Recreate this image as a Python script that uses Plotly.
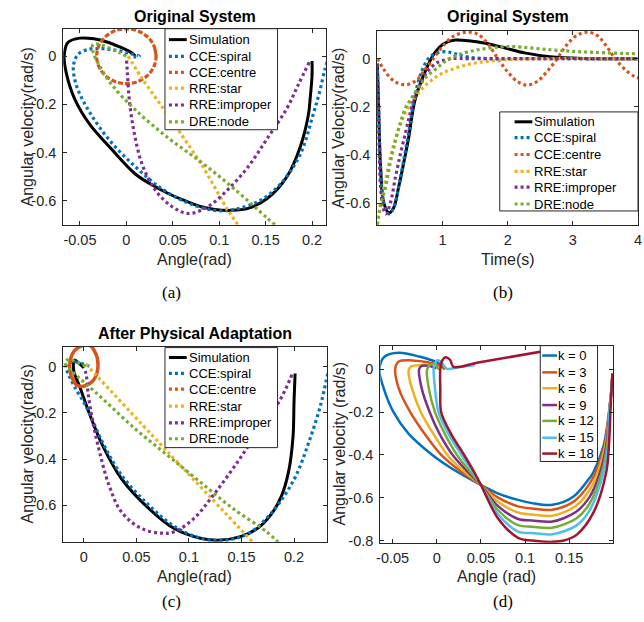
import plotly.graph_objects as go

# ---------------- data ----------------
# Panel (a): Original System, phase plane
sim_a_x = [0.200, 0.200, 0.198, 0.196, 0.187, 0.173, 0.152, 0.131, 0.113, 0.095, 0.081, 0.063, 0.045, 0.028, 0.010,
           -0.015, -0.040, -0.056, -0.065, -0.067, -0.063, -0.050, -0.035, -0.020, -0.008, 0.004, 0.009, 0.008]
sim_a_y = [-0.020, -0.080, -0.175, -0.245, -0.380, -0.500, -0.590, -0.632, -0.640, -0.636, -0.625, -0.600, -0.570,
           -0.535, -0.490, -0.390, -0.280, -0.175, -0.065, 0.000, 0.057, 0.075, 0.072, 0.058, 0.040, 0.018, 0.003, 0.0]
spiral_a_x = [0.218, 0.214, 0.208, 0.201, 0.187, 0.166, 0.145, 0.116, 0.095, 0.067, 0.038, 0.010, -0.018, -0.040,
              -0.054, -0.057, -0.052, -0.040, -0.026, -0.010, 0.003, 0.014, 0.010, 0.006]
spiral_a_y = [0.000, -0.053, -0.150, -0.245, -0.410, -0.530, -0.597, -0.637, -0.640, -0.610, -0.550, -0.460, -0.350,
              -0.230, -0.120, -0.040, 0.008, 0.029, 0.031, 0.024, 0.012, 0.000, -0.003, 0.000]
centre_a_x = [0.032, 0.0296, 0.0226, 0.0122, 0.0, -0.0122, -0.0226, -0.0296, -0.032, -0.0296, -0.0226, -0.0122, 0.0,
              0.0122, 0.0226, 0.0296, 0.032, 0.0296]
centre_a_y = [0.0, 0.0436, 0.0806, 0.1053, 0.114, 0.1053, 0.0806, 0.0436, 0.0, -0.0436, -0.0806, -0.1053, -0.114,
              -0.1053, -0.0806, -0.0436, 0.0, 0.0436]
star_a_x = [0.002, 0.017, 0.045, 0.081, 0.109, 0.122]
star_a_y = [0.000, -0.094, -0.245, -0.449, -0.637, -0.710]
improper_a_x = [0.197, 0.185, 0.173, 0.152, 0.131, 0.109, 0.088, 0.067, 0.049, 0.031, 0.017, 0.008, 0.003, 0.001, 0.0]
improper_a_y = [-0.025, -0.120, -0.216, -0.340, -0.460, -0.555, -0.624, -0.653, -0.624, -0.555, -0.449, -0.310, -0.175,
                -0.065, -0.005]
node_a_x = [0.160, 0.152, 0.116, 0.081, 0.045, 0.010, -0.015, -0.029, -0.036, -0.036, -0.030, -0.020, -0.008, 0.0]
node_a_y = [-0.700, -0.673, -0.550, -0.441, -0.339, -0.224, -0.122, -0.040, 0.020, 0.048, 0.050, 0.036, 0.016, 0.0]

# Panel (b): Original System, time response
t_sim = [0, 0.02, 0.05, 0.1, 0.18, 0.25, 0.33, 0.4, 0.48, 0.58, 0.73, 0.88, 1.04, 1.2, 1.4, 1.64, 1.95, 2.26, 2.65,
         3.15, 4.0]
v_sim = [-0.02, -0.2, -0.45, -0.6, -0.64, -0.62, -0.53, -0.44, -0.33, -0.17, -0.057, 0.024, 0.065, 0.077, 0.074,
         0.065, 0.045, 0.024, 0.008, 0.001, 0.0]
t_spiral = [0, 0.02, 0.05, 0.1, 0.18, 0.25, 0.33, 0.4, 0.48, 0.58, 0.7, 0.8, 0.9, 1.05, 1.2, 1.4, 1.7, 2.2, 4.0]
v_spiral = [-0.02, -0.2, -0.45, -0.6, -0.645, -0.62, -0.53, -0.43, -0.31, -0.15, -0.04, 0.005, 0.022, 0.029, 0.02,
            0.006, 0.0, 0.0, 0.0]
t_centre = [0, 0.1, 0.2, 0.3, 0.45, 0.6, 0.72, 0.86, 1.0, 1.15, 1.3, 1.42, 1.55, 1.7, 1.85, 2.0, 2.15, 2.3, 2.45, 2.6,
            2.76, 2.9, 3.05, 3.22, 3.38, 3.52, 3.65, 3.8, 3.95, 4.0]
v_centre = [0.0, -0.045, -0.08, -0.1, -0.108, -0.09, -0.05, 0.0, 0.05, 0.09, 0.107, 0.11, 0.1, 0.06, 0.0, -0.055,
            -0.095, -0.11, -0.095, -0.055, 0.0, 0.055, 0.095, 0.11, 0.095, 0.05, 0.0, -0.045, -0.075, -0.08]
t_star = [0, 0.03, 0.08, 0.13, 0.2, 0.28, 0.36, 0.44, 0.54, 0.64, 0.76, 0.89, 1.0, 1.14, 1.35, 1.55, 1.8, 2.05, 2.5, 4.0]
v_star = [-0.69, -0.63, -0.56, -0.5, -0.41, -0.33, -0.27, -0.22, -0.175, -0.14, -0.105, -0.078, -0.06, -0.045, -0.027,
          -0.016, -0.008, -0.003, 0.0, 0.0]
t_improper = [0, 0.02, 0.05, 0.09, 0.13, 0.2, 0.28, 0.36, 0.44, 0.51, 0.58, 0.66, 0.74, 0.82, 0.92, 1.03, 1.14, 1.4,
              2.0, 4.0]
v_improper = [-0.025, -0.3, -0.53, -0.62, -0.645, -0.6, -0.49, -0.39, -0.3, -0.22, -0.155, -0.105, -0.065, -0.038,
              -0.016, -0.006, 0.0, 0.0, 0.0, 0.0]
t_node = [0, 0.03, 0.08, 0.13, 0.2, 0.28, 0.36, 0.44, 0.51, 0.58, 0.66, 0.74, 0.89, 1.04, 1.24, 1.55, 1.9, 2.1, 2.65,
          3.16, 4.0]
v_node = [-0.69, -0.64, -0.58, -0.53, -0.43, -0.34, -0.26, -0.2, -0.17, -0.14, -0.11, -0.078, -0.045, -0.012, 0.016,
          0.037, 0.049, 0.05, 0.037, 0.028, 0.02]

# Panel (c): After Physical Adaptation, phase plane
sim_c_x = [0.201, 0.200, 0.199, 0.195, 0.188, 0.178, 0.165, 0.149, 0.130, 0.111, 0.086, 0.062, 0.036, 0.018, 0.005,
           -0.004, -0.009, -0.010, -0.009, -0.004, 0.000]
sim_c_y = [-0.030, -0.150, -0.305, -0.450, -0.560, -0.640, -0.700, -0.735, -0.750, -0.742, -0.700, -0.614, -0.486,
           -0.343, -0.200, -0.086, -0.030, 0.000, 0.028, 0.012, -0.005]
spiral_c_x = [0.232, 0.225, 0.214, 0.202, 0.189, 0.174, 0.158, 0.136, 0.111, 0.086, 0.062, 0.036, 0.018, 0.003,
              -0.009, -0.015, -0.017, -0.014, -0.008, 0.000, 0.006]
spiral_c_y = [-0.030, -0.171, -0.328, -0.470, -0.570, -0.655, -0.718, -0.750, -0.742, -0.690, -0.600, -0.470, -0.330,
              -0.180, -0.086, -0.030, 0.000, 0.015, 0.020, 0.010, 0.000]
centre_c_x = [0.0135, 0.0127, 0.0100, 0.0070, 0.0020, -0.0033, -0.0090, -0.0123, -0.0135, -0.0127, -0.0100, -0.0070,
              -0.0020, 0.0033, 0.0090, 0.0123, 0.0135, 0.0127]
centre_c_y = [0.004, 0.0385, 0.0676, 0.0872, 0.094, 0.0872, 0.0676, 0.0385, 0.004, -0.0305, -0.0596, -0.0792, -0.086,
              -0.0792, -0.0596, -0.0305, 0.004, 0.0385]
star_c_x = [0.002, 0.080, 0.162]
star_c_y = [0.010, -0.370, -0.765]
improper_c_x = [0.198, 0.189, 0.181, 0.161, 0.142, 0.123, 0.105, 0.086, 0.074, 0.055, 0.036, 0.024, 0.015, 0.008,
                0.004, 0.002, 0.0]
improper_c_y = [-0.035, -0.125, -0.185, -0.313, -0.440, -0.557, -0.655, -0.714, -0.720, -0.700, -0.630, -0.514, -0.370,
                -0.227, -0.114, -0.030, -0.005]
node_c_x = [0.185, 0.174, 0.142, 0.111, 0.080, 0.049, 0.018, 0.002, -0.008, -0.015, -0.018, -0.016, -0.010, -0.004,
            0.002]
node_c_y = [-0.760, -0.714, -0.614, -0.500, -0.385, -0.270, -0.140, -0.075, -0.035, -0.005, 0.018, 0.028, 0.025,
            0.015, 0.0]

# Panel (d): trajectories for several k
k_labels = ["k = 0", "k = 3", "k = 6", "k = 9", "k = 12", "k = 15", "k = 18"]
k0_x = [0.199, 0.198, 0.196, 0.189, 0.1775, 0.173, 0.155, 0.131, 0.108, 0.092, 0.069, 0.050, 0.017, -0.005, -0.032,
        -0.049, -0.060, -0.065, -0.059, -0.043, -0.020, -0.001, 0.008, 0.008]
k0_y = [-0.02, -0.09, -0.171, -0.356, -0.48, -0.508, -0.594, -0.633, -0.625, -0.610, -0.579, -0.540, -0.463, -0.40,
        -0.30, -0.20, -0.09, 0.0, 0.060, 0.078, 0.060, 0.035, 0.008, 0.0]
k3_x = [0.199, 0.198, 0.196, 0.190, 0.180, 0.173, 0.156, 0.131, 0.108, 0.092, 0.069, 0.050, 0.025, 0.005, -0.014,
        -0.030, -0.043, -0.047, -0.043, -0.028, -0.009, 0.006, 0.009]
k3_y = [-0.02, -0.09, -0.171, -0.356, -0.48, -0.535, -0.615, -0.656, -0.650, -0.640, -0.598, -0.540, -0.47, -0.40,
        -0.30, -0.20, -0.09, 0.005, 0.037, 0.042, 0.032, 0.012, 0.0]
k6_x = [0.199, 0.198, 0.196, 0.191, 0.1825, 0.173, 0.157, 0.131, 0.108, 0.092, 0.069, 0.050, 0.029, 0.012, -0.004,
        -0.018, -0.028, -0.032, -0.029, -0.018, -0.008, 0.000, 0.004]
k6_y = [-0.02, -0.09, -0.171, -0.356, -0.48, -0.565, -0.640, -0.684, -0.678, -0.669, -0.617, -0.540, -0.47, -0.40,
        -0.30, -0.20, -0.09, -0.009, 0.014, 0.020, 0.017, 0.006, 0.0]
k9_x = [0.199, 0.198, 0.196, 0.192, 0.185, 0.173, 0.157, 0.131, 0.108, 0.092, 0.069, 0.050, 0.033, 0.018, 0.003,
        -0.008, -0.017, -0.020, -0.017, -0.011, -0.005, -0.001]
k9_y = [-0.02, -0.09, -0.171, -0.356, -0.48, -0.597, -0.668, -0.711, -0.706, -0.699, -0.637, -0.540, -0.47, -0.40,
        -0.30, -0.20, -0.09, 0.0, 0.016, 0.017, 0.012, 0.004]
k12_x = [0.199, 0.198, 0.196, 0.193, 0.187, 0.173, 0.158, 0.131, 0.108, 0.092, 0.069, 0.050, 0.036, 0.023, 0.009,
         -0.002, -0.009, -0.011, -0.007, -0.002, 0.001, 0.003]
k12_y = [-0.02, -0.09, -0.171, -0.356, -0.48, -0.628, -0.697, -0.740, -0.735, -0.728, -0.656, -0.540, -0.47, -0.40,
         -0.30, -0.20, -0.09, 0.0, 0.022, 0.022, 0.008, 0.0]
k15_x = [0.199, 0.198, 0.196, 0.194, 0.189, 0.173, 0.158, 0.131, 0.108, 0.092, 0.069, 0.050, 0.039, 0.028, 0.013,
         0.002, -0.002, -0.0035, -0.002, 0.000, 0.005, 0.009, 0.012, 0.025, 0.043]
k15_y = [-0.02, -0.09, -0.171, -0.356, -0.48, -0.660, -0.730, -0.770, -0.765, -0.758, -0.675, -0.540, -0.47, -0.40,
         -0.30, -0.20, -0.09, 0.006, 0.025, 0.042, 0.036, 0.012, 0.002, 0.010, 0.020]
k18_x = [0.199, 0.198, 0.197, 0.195, 0.192, 0.178, 0.159, 0.144, 0.131, 0.108, 0.092, 0.069, 0.050, 0.041, 0.031,
         0.016, 0.005, 0.004, 0.004, 0.006, 0.0097, 0.015, 0.019, 0.047, 0.160]
k18_y = [-0.02, -0.09, -0.171, -0.356, -0.48, -0.665, -0.771, -0.800, -0.806, -0.800, -0.787, -0.694, -0.540, -0.47,
         -0.40, -0.30, -0.20, -0.09, 0.0, 0.040, 0.057, 0.045, 0.012, 0.032, 0.113]

# tick labels
ticks_ab_x = [-0.05, 0, 0.05, 0.1, 0.15, 0.2]
ticks_ab_xt = ["-0.05", "0", "0.05", "0.1", "0.15", "0.2"]
ticks_t = [1, 2, 3, 4]
ticks_tt = ["1", "2", "3", "4"]
ticks_c_x = [0, 0.05, 0.1, 0.15, 0.2]
ticks_c_xt = ["0", "0.05", "0.1", "0.15", "0.2"]
ticks_d_x = [-0.05, 0, 0.05, 0.1, 0.15]
ticks_d_xt = ["-0.05", "0", "0.05", "0.1", "0.15"]
ticks_v = [-0.6, -0.4, -0.2, 0]
ticks_vt = ["-0.6", "-0.4", "-0.2", "0"]
ticks_vd = [-0.8, -0.6, -0.4, -0.2, 0]
ticks_vdt = ["-0.8", "-0.6", "-0.4", "-0.2", "0"]

legend_names = ["Simulation", "CCE:spiral", "CCE:centre", "RRE:star", "RRE:improper", "DRE:node"]

# ---------------- styling ----------------
W, H = 644, 622
FONT = "Liberation Sans"
AX = "#262626"
C_BLUE, C_ORANGE, C_YELLOW = "#0072BD", "#D95319", "#EDB120"
C_PURPLE, C_GREEN, C_LBLUE, C_RED = "#7E2F8E", "#77AC30", "#4DBEEE", "#A2142F"
DOT = "3px,3px"


def px(x):
    return x / W


def py(y):
    return 1 - y / H


fig = go.Figure()


def add(xs, ys, color, dash, width, xa, ya, smoothing=1.0):
    fig.add_trace(go.Scatter(x=xs, y=ys, mode="lines", xaxis=xa, yaxis=ya, showlegend=False, hoverinfo="skip",
                             line=dict(color=color, dash=dash, width=width, shape="spline", smoothing=smoothing)))


# (a)
add(sim_a_x, sim_a_y, "black", "solid", 3, "x", "y")
add(spiral_a_x, spiral_a_y, C_BLUE, DOT, 3.2, "x", "y")
add(centre_a_x, centre_a_y, C_ORANGE, "5px,2px", 3.2, "x", "y")
add(star_a_x, star_a_y, C_YELLOW, DOT, 3.2, "x", "y", 0.3)
add(improper_a_x, improper_a_y, C_PURPLE, DOT, 3.2, "x", "y")
add(node_a_x, node_a_y, C_GREEN, DOT, 3.2, "x", "y")
# (b)
add(t_sim, v_sim, "black", "solid", 3, "x2", "y2")
add(t_spiral, v_spiral, C_BLUE, DOT, 3.2, "x2", "y2")
add(t_centre, v_centre, C_ORANGE, DOT, 3.2, "x2", "y2")
add(t_star, v_star, C_YELLOW, DOT, 3.2, "x2", "y2")
add(t_improper, v_improper, C_PURPLE, DOT, 3.2, "x2", "y2")
add(t_node, v_node, C_GREEN, DOT, 3.2, "x2", "y2")
# (c)
add(sim_c_x, sim_c_y, "black", "solid", 3, "x3", "y3")
add(spiral_c_x, spiral_c_y, C_BLUE, DOT, 3.2, "x3", "y3")
add(centre_c_x, centre_c_y, C_ORANGE, "solid", 3.5, "x3", "y3")
add(star_c_x, star_c_y, C_YELLOW, DOT, 3.2, "x3", "y3", 0.3)
add(improper_c_x, improper_c_y, C_PURPLE, DOT, 3.2, "x3", "y3")
add(node_c_x, node_c_y, C_GREEN, DOT, 3.2, "x3", "y3")
# (d)
k_series = [(k0_x, k0_y, C_BLUE), (k3_x, k3_y, C_ORANGE), (k6_x, k6_y, C_YELLOW), (k9_x, k9_y, C_PURPLE),
            (k12_x, k12_y, C_GREEN), (k15_x, k15_y, C_LBLUE), (k18_x, k18_y, C_RED)]
for xs, ys, c in k_series:
    add(xs, ys, c, "solid", 2.5, "x4", "y4", 0.9)


def axis(dom, rng, tv, tt, anchor, standoff):
    return dict(domain=dom, range=rng, tickvals=tv, ticktext=tt, anchor=anchor, showline=True, linecolor=AX,
                linewidth=1, mirror="ticks", ticks="inside", ticklen=4, tickcolor=AX, tickwidth=1, showgrid=False,
                zeroline=False, ticklabelstandoff=standoff, ticklabeloverflow="allow",
                tickfont=dict(family=FONT, size=14.5, color=AX))


def dom_x(a, b):
    return [px(a), px(b)]


def dom_y(top, bottom):
    return [py(bottom), py(top)]


fig.update_layout(
    width=W, height=H, margin=dict(l=0, r=0, t=0, b=0), paper_bgcolor="white", plot_bgcolor="white",
    showlegend=False,
    xaxis=axis(dom_x(60, 326), [-0.068, 0.215], ticks_ab_x, ticks_ab_xt, "y", 2),
    yaxis=axis(dom_y(29, 227), [-0.7, 0.114], ticks_v, ticks_vt, "x", 3),
    xaxis2=axis(dom_x(378, 642), [0, 4], ticks_t, ticks_tt, "y2", 2),
    yaxis2=axis(dom_y(31, 227), [-0.69, 0.116], ticks_v, ticks_vt, "x2", 3),
    xaxis3=axis(dom_x(60, 327), [-0.0196, 0.2313], ticks_c_x, ticks_c_xt, "y3", 2),
    yaxis3=axis(dom_y(350, 547), [-0.757, 0.086], ticks_v, ticks_vt, "x3", 3),
    xaxis4=axis(dom_x(381, 617), [-0.064, 0.2], ticks_d_x, ticks_d_xt, "y4", 2),
    yaxis4=axis(dom_y(349, 548), [-0.81, 0.111], ticks_vd, ticks_vdt, "x4", 3),
)


def text(x, y, s, size, family=FONT, color=AX, bold=False, angle=0, xanchor="center"):
    fig.add_annotation(xref="paper", yref="paper", x=px(x), y=py(y), text=("<b>%s</b>" % s) if bold else s,
                       showarrow=False, xanchor=xanchor, yanchor="middle", textangle=angle, borderpad=0,
                       font=dict(family=family, size=size, color=color))


# titles
text(193, 17, "Original System", 16, color="black", bold=True)
text(510, 17, "Original System", 16, color="black", bold=True)
text(193, 337, "After Physical Adaptation", 16, color="black", bold=True)
# axis titles
text(193, 262, "Angle(rad)", 16)
text(510, 262, "Time(s)", 16)
text(193, 582, "Angle(rad)", 16)
text(499, 582, "Angle (rad)", 16)
text(24, 128, "Angular velocity(rad/s)", 16, angle=-90)
text(339, 129, "Angular Velocity(rad/s)", 16, angle=-90)
text(24, 448, "Angular velocity(rad/s)", 16, angle=-90)
text(340, 448, "Angular velocity (rad/s)", 16, angle=-90)
# captions
for cx, cy, s in [(170, 295, "(a)"), (505, 295, "(b)"), (170, 607, "(c)"), (505, 607, "(d)")]:
    text(cx, cy, s, 17, family="Liberation Serif", color="black")


def legend(box, xl, xt, ys, items):
    x0, x1, y0, y1 = box
    fig.add_shape(type="rect", xref="paper", yref="paper", x0=px(x0), x1=px(x1), y0=py(y1), y1=py(y0),
                  line=dict(color=AX, width=1), fillcolor="white", layer="above")
    for yy, (name, color, dash, width) in zip(ys, items):
        fig.add_shape(type="line", xref="paper", yref="paper", x0=px(xl[0]), x1=px(xl[1]), y0=py(yy), y1=py(yy),
                      line=dict(color=color, dash=dash, width=width), layer="above")
        text(xt, yy, name, 13, color="black", xanchor="left")


items6 = list(zip(legend_names, ["black", C_BLUE, C_ORANGE, C_YELLOW, C_PURPLE, C_GREEN],
                  ["solid", DOT, DOT, DOT, DOT, DOT], [3, 3.2, 3.2, 3.2, 3.2, 3.2]))
legend((163, 277, 29, 131), (167, 185), 186, [40, 57, 73, 89, 106, 123], items6)
legend((502, 642, 113, 213), (517, 535), 536, [123, 139, 156, 173, 189, 206], items6)
legend((163, 277, 351, 452), (167, 185), 186, [361, 377, 393, 410, 427, 443], items6)
items7 = list(zip(k_labels, [c for _, _, c in k_series], ["solid"] * 7, [2.5] * 7))
legend((543, 601, 349, 466), (545, 560), 560, [359, 376, 392, 409, 425, 442, 458], items7)

fig.write_html("out.html", config={"displayModeBar": False},
               post_script="document.body.style.margin='0';document.body.style.overflow='hidden';")
